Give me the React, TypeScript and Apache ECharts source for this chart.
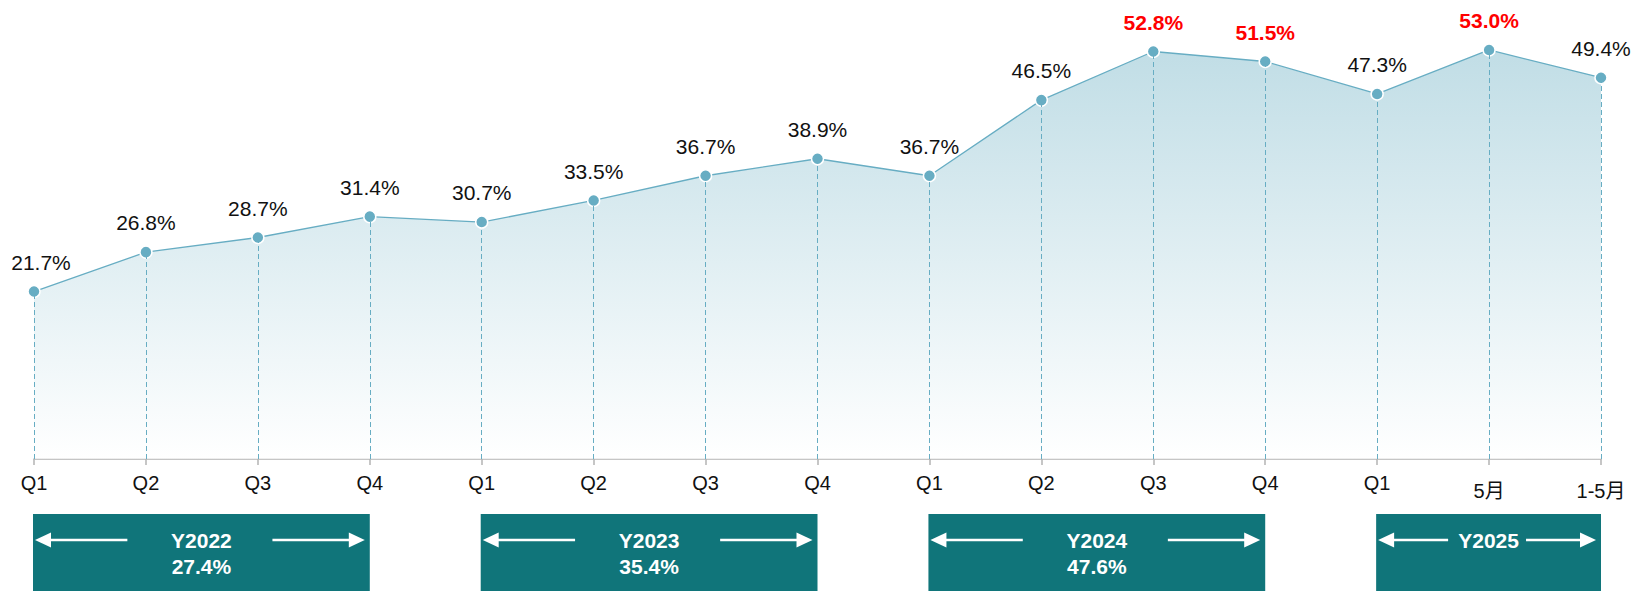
import React, { useEffect, useRef } from "react";
import * as echarts from "echarts";

const categories = ["Q1", "Q2", "Q3", "Q4", "Q1", "Q2", "Q3", "Q4", "Q1", "Q2", "Q3", "Q4", "Q1", "5月", "1-5月"];
const values = [21.7, 26.8, 28.7, 31.4, 30.7, 33.5, 36.7, 38.9, 36.7, 46.5, 52.8, 51.5, 47.3, 53.0, 49.4];
const highlighted = [10, 11, 13];
const years = ["Y2022", "Y2023", "Y2024", "Y2025"];
const yearValues = ["27.4%", "35.4%", "47.6%", ""];
const yearStart = [0, 4, 8, 12];
const yearEnd = [3, 7, 11, 14];

const FONT = "'Liberation Sans', Arial, 'Noto Sans CJK SC', sans-serif";
const LINE_COLOR = "#67adc3";
const BOX_COLOR = "#10757a";

export default function App() {
  const ref = useRef<HTMLDivElement>(null);
  useEffect(() => {
    if (!ref.current) return;
    const chart = echarts.init(ref.current, undefined, { renderer: "svg" });
    const data = values.map((v, i) => {
      const item: any = { value: v };
      if (highlighted.includes(i)) {
        item.label = { color: "#ff0000", fontWeight: "bold" };
      }
      if (i === 0) {
        item.label = { offset: [7, 0] };
      }
      return item;
    });
    chart.setOption({
      animation: false,
      textStyle: { fontFamily: FONT },
      grid: { left: 34, right: 32, top: 34.5, bottom: 132 },
      xAxis: {
        type: "category",
        data: categories,
        boundaryGap: false,
        axisLine: { lineStyle: { color: "#b3b3b3", width: 1.5 } },
        axisTick: { show: true, length: 6, alignWithLabel: true, lineStyle: { color: "#b3b3b3", width: 1.5 } },
        axisLabel: {
          interval: 0,
          color: "#111",
          fontSize: 20,
          fontFamily: FONT,
          margin: 14,
          formatter: (v: string) => (v.indexOf("月") >= 0 ? `{c|${v}}` : v),
          rich: { c: { fontSize: 20, color: "#111", fontFamily: FONT, padding: [8, 0, 0, 0] } },
        },
        splitLine: { show: false },
      },
      yAxis: {
        type: "value",
        min: 0,
        max: 55,
        show: false,
        splitLine: { show: false },
      },
      series: [
        {
          type: "line",
          data,
          symbol: "circle",
          symbolSize: 12,
          lineStyle: { color: LINE_COLOR, width: 1.3 },
          itemStyle: { color: LINE_COLOR, borderColor: "#ffffff", borderWidth: 1.5 },
          areaStyle: {
            color: new echarts.graphic.LinearGradient(0, 0, 0, 1, [
              { offset: 0, color: "#a6cfdb" },
              { offset: 1, color: "#ffffff" },
            ]),
          },
          label: {
            show: true,
            position: "top",
            distance: 12,
            fontSize: 21,
            color: "#111",
            fontFamily: FONT,
            formatter: (p: any) => `${Number(p.value).toFixed(1)}%`,
          },
          markLine: {
            silent: true,
            symbol: "none",
            label: { show: false },
            lineStyle: { color: LINE_COLOR, width: 1, type: [5, 3] },
            data: values.map((v, i) => [
              { coord: [i, 0] },
              { coord: [i, v] },
            ]),
          },
          z: 2,
        },
      ],
    });

    const graphics: any[] = [];
    const arrowY = 540;
    years.forEach((y, k) => {
      const x0 = chart.convertToPixel({ xAxisIndex: 0 }, yearStart[k]) as number;
      const x1 = chart.convertToPixel({ xAxisIndex: 0 }, yearEnd[k]) as number;
      const left = x0 - 1;
      const right = x1;
      const w = right - left;
      const cx = (left + right) / 2;
      const L = 0.2 * w + 25;
      graphics.push({
        type: "rect",
        shape: { x: left, y: 514, width: w, height: 80 },
        style: { fill: BOX_COLOR },
      });
      const lt = left + 2;
      const rt = right - 5;
      graphics.push({
        type: "line",
        shape: { x1: lt + 10, y1: arrowY, x2: lt + L, y2: arrowY },
        style: { stroke: "#ffffff", lineWidth: 2.5 },
      });
      graphics.push({
        type: "polygon",
        shape: { points: [[lt, arrowY], [lt + 16, arrowY - 7.5], [lt + 16, arrowY + 7.5]] },
        style: { fill: "#ffffff" },
      });
      graphics.push({
        type: "line",
        shape: { x1: rt - L, y1: arrowY, x2: rt - 10, y2: arrowY },
        style: { stroke: "#ffffff", lineWidth: 2.5 },
      });
      graphics.push({
        type: "polygon",
        shape: { points: [[rt, arrowY], [rt - 16, arrowY - 7.5], [rt - 16, arrowY + 7.5]] },
        style: { fill: "#ffffff" },
      });
      graphics.push({
        type: "text",
        x: cx,
        y: arrowY,
        style: {
          text: y,
          fill: "#ffffff",
          font: `bold 21px ${FONT}`,
          align: "center",
          verticalAlign: "middle",
        },
      });
      if (yearValues[k]) {
        graphics.push({
          type: "text",
          x: cx,
          y: 566,
          style: {
            text: yearValues[k],
            fill: "#ffffff",
            font: `bold 21px ${FONT}`,
            align: "center",
            verticalAlign: "middle",
          },
        });
      }
    });
    chart.setOption({ graphic: graphics });

    return () => chart.dispose();
  }, []);
  return (
    <div
      ref={ref}
      style={{ position: "fixed", left: 0, top: 0, width: 1633, height: 591, background: "#ffffff" }}
    />
  );
}
